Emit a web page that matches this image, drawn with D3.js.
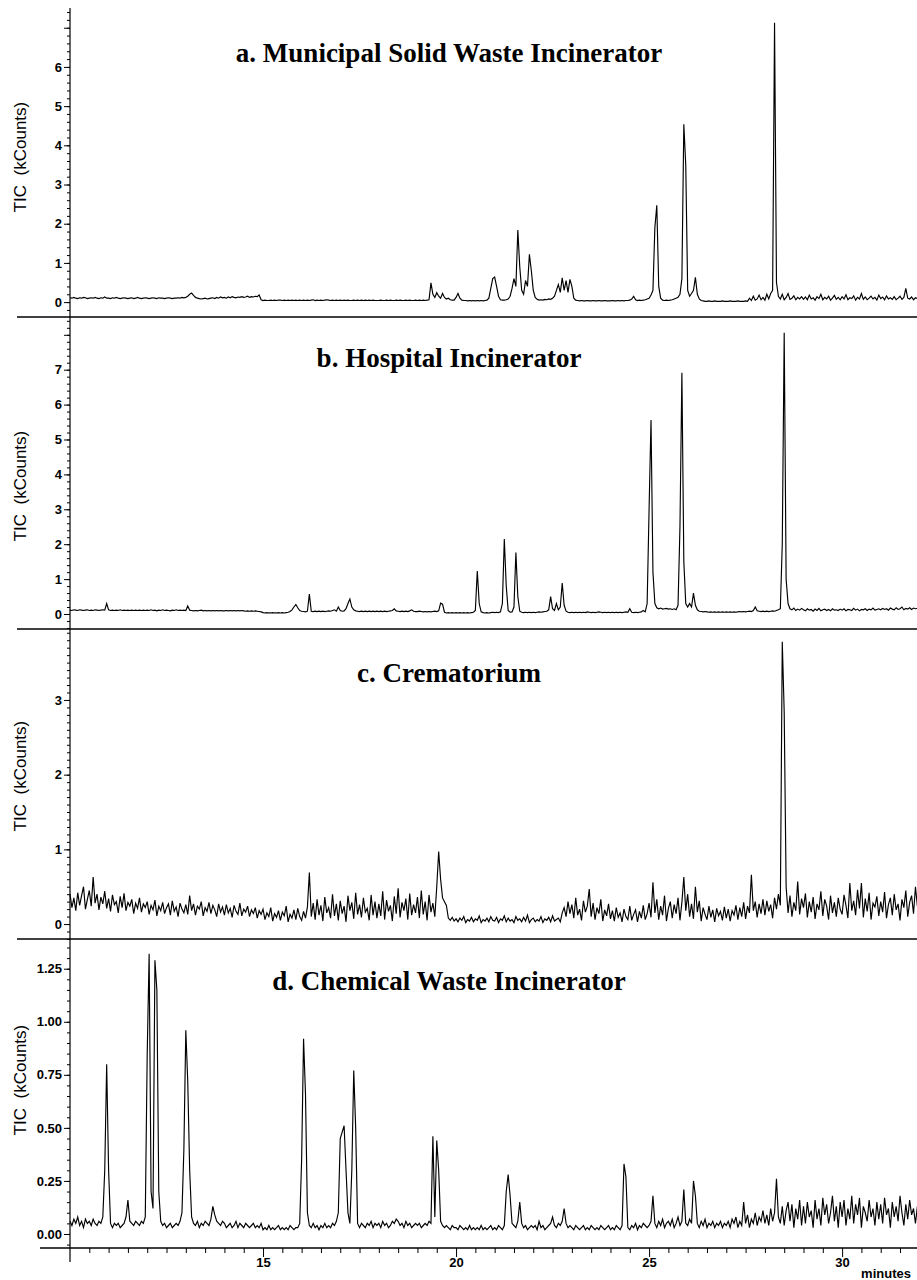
<!DOCTYPE html>
<html>
<head>
<meta charset="utf-8">
<script src="https://cdn.jsdelivr.net/npm/d3@7"></script>
<style>
  body { margin: 0; background: #fff; }
  .title { font-family: 'Liberation Serif', 'Times New Roman', serif; font-weight: bold; font-size: 27px; }
  .axis-label { font-family: 'Liberation Sans', Arial, sans-serif; font-size: 17px; }
  .unit { font-family: 'Liberation Sans', Arial, sans-serif; font-weight: bold; font-size: 13px; }
</style>
</head>
<body>
<svg width="917" height="1280"></svg>
<script>
//scan settings: one value every 0.05 min starting at 10 min (one row = one minute)
const scanStart = 10;
const scanStep = 0.05;

//a. municipal solid waste incinerator (kCounts)
const municipal = [
  0.11,0.10,0.12,0.10,0.09,0.11,0.10,0.12,0.11,0.09,0.10,0.11,0.10,0.12,0.10,0.09,0.11,0.10,0.13,0.10,
  0.10,0.09,0.11,0.10,0.12,0.10,0.09,0.10,0.11,0.10,0.09,0.10,0.11,0.09,0.10,0.12,0.10,0.09,0.10,0.11,
  0.10,0.09,0.10,0.11,0.10,0.09,0.11,0.10,0.10,0.09,0.10,0.11,0.10,0.09,0.10,0.10,0.11,0.10,0.12,0.11,
  0.12,0.15,0.20,0.23,0.17,0.12,0.10,0.09,0.08,0.09,0.10,0.08,0.09,0.10,0.11,0.09,0.12,0.10,0.13,0.11,
  0.12,0.10,0.13,0.11,0.14,0.12,0.11,0.13,0.12,0.14,0.12,0.13,0.15,0.12,0.14,0.13,0.15,0.14,0.18,0.06,
  0.04,0.05,0.04,0.04,0.05,0.04,0.05,0.04,0.05,0.05,0.04,0.05,0.04,0.05,0.04,0.05,0.04,0.05,0.04,0.05,
  0.04,0.05,0.04,0.05,0.04,0.05,0.06,0.04,0.05,0.04,0.05,0.04,0.05,0.06,0.05,0.04,0.05,0.04,0.05,0.04,
  0.05,0.04,0.05,0.04,0.05,0.04,0.04,0.05,0.04,0.05,0.04,0.05,0.04,0.05,0.04,0.05,0.04,0.05,0.04,0.04,
  0.04,0.05,0.04,0.04,0.05,0.04,0.05,0.04,0.04,0.05,0.04,0.05,0.04,0.04,0.05,0.04,0.05,0.04,0.04,0.05,
  0.04,0.05,0.04,0.05,0.04,0.05,0.06,0.49,0.20,0.12,0.24,0.15,0.10,0.22,0.12,0.08,0.10,0.06,0.05,0.05,
  0.12,0.22,0.10,0.05,0.04,0.04,0.03,0.04,0.03,0.04,0.03,0.04,0.03,0.04,0.03,0.04,0.05,0.10,0.35,0.60,
  0.64,0.40,0.15,0.06,0.05,0.05,0.06,0.08,0.15,0.35,0.60,0.40,1.84,0.90,0.30,0.20,0.55,0.40,1.22,0.80,
  0.30,0.12,0.07,0.05,0.06,0.05,0.07,0.06,0.08,0.07,0.10,0.15,0.30,0.45,0.25,0.62,0.30,0.55,0.25,0.58,
  0.40,0.10,0.05,0.04,0.03,0.04,0.03,0.03,0.04,0.03,0.03,0.04,0.03,0.03,0.04,0.03,0.03,0.04,0.03,0.03,
  0.03,0.04,0.03,0.03,0.04,0.03,0.04,0.03,0.04,0.04,0.05,0.08,0.15,0.06,0.04,0.05,0.04,0.05,0.06,0.08,
  0.10,0.18,0.30,1.90,2.47,0.40,0.10,0.05,0.04,0.05,0.04,0.05,0.06,0.08,0.10,0.12,0.20,0.60,4.54,3.50,
  0.30,0.15,0.22,0.30,0.63,0.20,0.08,0.04,0.03,0.02,0.02,0.03,0.02,0.02,0.03,0.02,0.02,0.02,0.03,0.02,
  0.02,0.02,0.03,0.02,0.02,0.02,0.03,0.02,0.02,0.02,0.03,0.02,0.10,0.04,0.15,0.05,0.08,0.18,0.06,0.12,
  0.05,0.20,0.08,0.22,0.30,7.13,0.50,0.15,0.08,0.20,0.06,0.12,0.22,0.07,0.10,0.16,0.06,0.12,0.08,0.14,
  0.07,0.13,0.06,0.18,0.08,0.11,0.05,0.14,0.09,0.20,0.06,0.12,0.08,0.15,0.05,0.10,0.17,0.07,0.12,0.06,
  0.14,0.08,0.19,0.06,0.11,0.09,0.16,0.05,0.12,0.08,0.22,0.07,0.13,0.06,0.10,0.15,0.08,0.12,0.05,0.18,
  0.09,0.13,0.06,0.16,0.08,0.11,0.07,0.14,0.06,0.10,0.15,0.07,0.12,0.35,0.10,0.08,0.13,0.06,0.11,0.09
];

//b. hospital incinerator (kCounts)
const hospital = [
  0.11,0.10,0.12,0.11,0.10,0.12,0.11,0.10,0.11,0.12,0.10,0.11,0.10,0.12,0.11,0.10,0.11,0.12,0.11,0.30,
  0.12,0.10,0.11,0.10,0.11,0.10,0.12,0.10,0.11,0.10,0.11,0.10,0.11,0.10,0.11,0.10,0.11,0.10,0.11,0.10,
  0.11,0.10,0.12,0.10,0.11,0.09,0.11,0.10,0.12,0.10,0.11,0.10,0.09,0.11,0.10,0.12,0.10,0.11,0.10,0.11,
  0.10,0.23,0.11,0.10,0.09,0.10,0.09,0.10,0.11,0.09,0.10,0.09,0.10,0.09,0.10,0.09,0.10,0.09,0.10,0.09,
  0.09,0.10,0.09,0.10,0.09,0.10,0.09,0.10,0.09,0.10,0.09,0.08,0.09,0.08,0.09,0.08,0.09,0.08,0.07,0.06,
  0.04,0.03,0.04,0.03,0.03,0.04,0.03,0.03,0.04,0.03,0.04,0.03,0.04,0.05,0.07,0.12,0.20,0.27,0.18,0.10,
  0.08,0.07,0.06,0.08,0.57,0.08,0.07,0.08,0.07,0.08,0.07,0.08,0.07,0.08,0.09,0.08,0.10,0.12,0.08,0.20,
  0.10,0.08,0.09,0.15,0.30,0.43,0.20,0.12,0.09,0.08,0.07,0.08,0.07,0.08,0.07,0.08,0.07,0.08,0.07,0.08,
  0.07,0.08,0.07,0.08,0.07,0.08,0.09,0.10,0.15,0.09,0.08,0.07,0.08,0.07,0.08,0.07,0.09,0.12,0.08,0.07,
  0.07,0.08,0.07,0.06,0.07,0.06,0.07,0.06,0.07,0.08,0.07,0.09,0.31,0.28,0.05,0.03,0.04,0.03,0.04,0.03,
  0.04,0.03,0.04,0.03,0.04,0.03,0.04,0.03,0.04,0.05,0.10,1.23,0.30,0.06,0.04,0.03,0.04,0.03,0.04,0.05,
  0.04,0.05,0.04,0.06,0.30,2.15,0.80,0.10,0.05,0.06,0.20,1.76,0.50,0.08,0.05,0.04,0.05,0.04,0.05,0.04,
  0.05,0.04,0.05,0.06,0.05,0.06,0.07,0.08,0.12,0.50,0.15,0.10,0.30,0.12,0.20,0.89,0.25,0.08,0.05,0.04,
  0.05,0.04,0.05,0.04,0.05,0.04,0.05,0.04,0.06,0.05,0.04,0.05,0.04,0.05,0.06,0.05,0.04,0.05,0.04,0.05,
  0.04,0.05,0.04,0.05,0.04,0.05,0.04,0.05,0.06,0.05,0.15,0.05,0.04,0.05,0.04,0.05,0.06,0.10,0.06,0.30,
  3.00,5.56,1.20,0.30,0.18,0.15,0.17,0.14,0.15,0.16,0.14,0.15,0.13,0.15,0.12,0.25,2.50,6.91,1.50,0.30,
  0.20,0.30,0.20,0.60,0.25,0.12,0.08,0.07,0.06,0.07,0.06,0.05,0.06,0.05,0.06,0.05,0.06,0.05,0.06,0.05,
  0.06,0.05,0.06,0.05,0.06,0.05,0.06,0.07,0.06,0.07,0.06,0.07,0.08,0.07,0.10,0.20,0.09,0.08,0.07,0.08,
  0.07,0.08,0.07,0.08,0.09,0.08,0.10,0.12,0.15,2.00,8.06,1.00,0.30,0.15,0.12,0.17,0.10,0.14,0.11,0.16,
  0.12,0.09,0.15,0.11,0.13,0.08,0.14,0.10,0.16,0.09,0.12,0.14,0.10,0.13,0.09,0.15,0.11,0.12,0.10,0.14,
  0.11,0.15,0.09,0.13,0.12,0.10,0.16,0.11,0.14,0.09,0.13,0.12,0.15,0.10,0.14,0.12,0.17,0.11,0.13,0.15,
  0.12,0.16,0.13,0.15,0.11,0.17,0.14,0.12,0.18,0.13,0.15,0.20,0.12,0.16,0.14,0.18,0.13,0.17,0.15,0.16
];

//c. crematorium (kCounts)
const crematorium = [
  0.40,0.22,0.35,0.18,0.42,0.25,0.38,0.50,0.20,0.33,0.45,0.24,0.63,0.28,0.40,0.19,0.36,0.27,0.44,0.21,
  0.34,0.17,0.39,0.26,0.30,0.15,0.37,0.22,0.41,0.18,0.29,0.24,0.33,0.14,0.28,0.21,0.35,0.16,0.27,0.22,
  0.30,0.13,0.25,0.19,0.32,0.11,0.24,0.18,0.29,0.14,0.22,0.27,0.12,0.31,0.17,0.23,0.10,0.28,0.20,0.15,
  0.26,0.13,0.38,0.18,0.27,0.12,0.24,0.20,0.30,0.11,0.22,0.17,0.29,0.14,0.25,0.19,0.10,0.27,0.16,0.23,
  0.12,0.26,0.15,0.21,0.09,0.25,0.17,0.13,0.28,0.11,0.20,0.16,0.24,0.10,0.19,0.14,0.22,0.08,0.18,0.13,
  0.20,0.06,0.15,0.10,0.22,0.04,0.14,0.09,0.18,0.05,0.16,0.11,0.24,0.03,0.13,0.08,0.19,0.06,0.21,0.10,
  0.05,0.17,0.08,0.23,0.69,0.10,0.28,0.06,0.33,0.12,0.25,0.04,0.36,0.15,0.22,0.08,0.40,0.11,0.27,0.05,
  0.31,0.14,0.24,0.03,0.38,0.18,0.29,0.07,0.42,0.13,0.26,0.09,0.35,0.16,0.21,0.05,0.39,0.12,0.30,0.08,
  0.27,0.11,0.44,0.06,0.32,0.17,0.25,0.04,0.37,0.14,0.48,0.09,0.29,0.18,0.34,0.06,0.41,0.12,0.26,0.15,
  0.36,0.08,0.45,0.13,0.30,0.05,0.39,0.16,0.28,0.10,0.50,0.97,0.60,0.35,0.30,0.25,0.08,0.05,0.09,0.04,
  0.07,0.03,0.08,0.05,0.10,0.02,0.06,0.04,0.09,0.03,0.07,0.05,0.11,0.02,0.06,0.04,0.08,0.03,0.10,0.05,
  0.04,0.09,0.02,0.07,0.05,0.11,0.03,0.08,0.04,0.06,0.02,0.10,0.05,0.07,0.03,0.09,0.04,0.12,0.02,0.06,
  0.08,0.03,0.06,0.04,0.10,0.02,0.07,0.05,0.09,0.03,0.11,0.04,0.06,0.08,0.03,0.15,0.22,0.10,0.30,0.14,
  0.26,0.08,0.35,0.12,0.20,0.05,0.31,0.16,0.24,0.47,0.10,0.28,0.06,0.22,0.14,0.33,0.04,0.19,0.11,0.27,
  0.07,0.18,0.04,0.22,0.09,0.15,0.03,0.20,0.10,0.06,0.24,0.05,0.13,0.19,0.03,0.17,0.08,0.25,0.06,0.14,
  0.28,0.09,0.56,0.15,0.33,0.06,0.24,0.12,0.38,0.04,0.21,0.30,0.08,0.26,0.14,0.35,0.05,0.29,0.63,0.18,
  0.40,0.10,0.27,0.07,0.50,0.16,0.31,0.04,0.22,0.13,0.06,0.24,0.09,0.19,0.03,0.21,0.11,0.17,0.05,0.23,
  0.08,0.20,0.04,0.18,0.12,0.25,0.06,0.22,0.10,0.29,0.07,0.24,0.15,0.66,0.18,0.30,0.09,0.27,0.14,0.33,
  0.12,0.31,0.17,0.26,0.08,0.35,0.20,0.40,0.25,3.78,2.84,0.50,0.15,0.38,0.10,0.29,0.18,0.57,0.13,0.34,
  0.22,0.41,0.09,0.30,0.16,0.36,0.07,0.27,0.19,0.44,0.11,0.33,0.24,0.06,0.38,0.15,0.29,0.10,0.35,0.20,
  0.13,0.39,0.25,0.08,0.55,0.18,0.31,0.12,0.46,0.21,0.55,0.09,0.34,0.17,0.42,0.06,0.28,0.23,0.37,0.11,
  0.30,0.16,0.43,0.08,0.26,0.35,0.12,0.40,0.19,0.27,0.05,0.33,0.22,0.45,0.10,0.29,0.38,0.14,0.50,0.24
];

//d. chemical waste incinerator (kCounts)
const chemical = [
  0.06,0.04,0.07,0.05,0.08,0.04,0.06,0.03,0.07,0.05,0.06,0.04,0.07,0.05,0.04,0.06,0.05,0.08,0.30,0.80,
  0.30,0.05,0.03,0.05,0.04,0.05,0.03,0.04,0.05,0.08,0.16,0.06,0.05,0.04,0.06,0.05,0.04,0.06,0.05,0.08,
  0.85,1.32,0.20,0.12,1.29,1.15,0.20,0.06,0.04,0.05,0.03,0.04,0.05,0.03,0.04,0.05,0.04,0.06,0.10,0.40,
  0.96,0.72,0.30,0.08,0.05,0.04,0.06,0.03,0.05,0.04,0.06,0.05,0.04,0.07,0.13,0.09,0.06,0.05,0.04,0.06,
  0.05,0.03,0.04,0.05,0.03,0.04,0.06,0.03,0.05,0.04,0.03,0.05,0.04,0.03,0.04,0.05,0.03,0.04,0.03,0.05,
  0.02,0.03,0.02,0.04,0.02,0.03,0.02,0.03,0.04,0.02,0.03,0.02,0.03,0.02,0.04,0.03,0.02,0.03,0.03,0.05,
  0.35,0.92,0.66,0.10,0.04,0.03,0.05,0.03,0.04,0.02,0.04,0.03,0.05,0.03,0.04,0.03,0.05,0.04,0.06,0.10,
  0.45,0.48,0.51,0.30,0.10,0.05,0.30,0.77,0.50,0.05,0.03,0.05,0.04,0.03,0.05,0.04,0.06,0.03,0.05,0.04,
  0.05,0.03,0.06,0.04,0.05,0.03,0.04,0.06,0.05,0.07,0.06,0.04,0.05,0.03,0.06,0.04,0.05,0.03,0.04,0.05,
  0.04,0.05,0.03,0.04,0.05,0.04,0.06,0.05,0.46,0.08,0.44,0.30,0.06,0.04,0.03,0.04,0.03,0.02,0.04,0.03,
  0.03,0.02,0.04,0.03,0.02,0.03,0.02,0.04,0.02,0.03,0.02,0.03,0.02,0.04,0.02,0.03,0.02,0.03,0.04,0.02,
  0.03,0.02,0.04,0.03,0.02,0.04,0.20,0.28,0.18,0.05,0.04,0.03,0.06,0.15,0.05,0.03,0.04,0.02,0.03,0.04,
  0.03,0.04,0.02,0.06,0.03,0.04,0.02,0.03,0.04,0.05,0.08,0.04,0.03,0.05,0.04,0.06,0.12,0.05,0.03,0.04,
  0.03,0.02,0.04,0.03,0.02,0.03,0.04,0.02,0.03,0.02,0.04,0.03,0.02,0.03,0.02,0.04,0.03,0.02,0.03,0.04,
  0.02,0.03,0.02,0.04,0.03,0.02,0.04,0.33,0.27,0.03,0.02,0.04,0.03,0.05,0.02,0.04,0.03,0.05,0.04,0.03,
  0.04,0.06,0.18,0.05,0.03,0.06,0.04,0.07,0.03,0.05,0.06,0.04,0.07,0.03,0.05,0.08,0.04,0.06,0.21,0.05,
  0.04,0.07,0.05,0.25,0.18,0.05,0.03,0.06,0.04,0.07,0.03,0.05,0.04,0.06,0.03,0.05,0.04,0.06,0.03,0.05,
  0.04,0.06,0.03,0.07,0.05,0.08,0.03,0.06,0.04,0.15,0.05,0.09,0.03,0.07,0.05,0.10,0.04,0.08,0.06,0.11,
  0.05,0.09,0.04,0.12,0.06,0.10,0.26,0.08,0.05,0.13,0.04,0.11,0.15,0.06,0.14,0.03,0.12,0.07,0.16,0.04,
  0.13,0.05,0.15,0.08,0.11,0.03,0.16,0.07,0.12,0.04,0.17,0.09,0.14,0.05,0.10,0.18,0.06,0.13,0.03,0.15,
  0.08,0.16,0.04,0.12,0.07,0.18,0.05,0.14,0.09,0.17,0.03,0.13,0.10,0.06,0.16,0.08,0.12,0.04,0.15,0.07,
  0.14,0.05,0.17,0.09,0.12,0.03,0.15,0.08,0.13,0.06,0.18,0.10,0.04,0.14,0.07,0.16,0.09,0.12,0.05,0.13
];

const titles = [
  'a. Municipal Solid Waste Incinerator',
  'b. Hospital Incinerator',
  'c. Crematorium',
  'd. Chemical Waste Incinerator'
];
const series = [municipal, hospital, crematorium, chemical];
const yTickValues = [
  [0, 1, 2, 3, 4, 5, 6, 7],
  [0, 1, 2, 3, 4, 5, 6, 7, 8],
  [0, 1, 2, 3],
  [0, 0.25, 0.5, 0.75, 1, 1.25]
];
const yTickLabelled = [
  [0, 1, 2, 3, 4, 5, 6],
  [0, 1, 2, 3, 4, 5, 6, 7],
  [0, 1, 2, 3],
  [0, 0.25, 0.5, 0.75, 1, 1.25]
];
const yMinorStep = [0.2, 0.2, 0.1, 0.05];
const xTickValues = [15, 20, 25, 30];
const xLabel = 'minutes';
const yAxisLabel = 'TIC\u00a0 (kCounts)';

//declare svg variables
const svg = d3.select('svg');
const width = +svg.attr('width');
const height = +svg.attr('height');

//panel layout
const axisX = 70;
const panelTop = [5, 317, 629, 939];
const panelBottom = [317, 629, 939, 1248];
const yDomains = [[-0.38, 7.58], [-0.43, 8.51], [-0.2, 3.95], [-0.066, 1.39]];
const titleY = [62, 367, 682, 990];
const labelY = [157, 486, 776, 1080];

//tick label styling applied straight onto the axis text
const styleTicks = sel => sel.selectAll('.tick text')
  .attr('font-family', "'Liberation Sans', Arial, sans-serif")
  .attr('font-weight', 'bold')
  .attr('font-size', 13)
  .attr('fill', '#000');

const xScale = d3.scaleLinear()
  .domain([10, 31.94])
  .range([axisX, width]);

const timeOf = i => scanStart + i * scanStep;

series.forEach((values, p) => {
  const yScale = d3.scaleLinear()
    .domain(yDomains[p])
    .range([panelBottom[p], panelTop[p]]);

  const g = svg.append('g');

  //minor y ticks
  const [lo, hi] = yDomains[p];
  const minor = d3.range(Math.ceil(lo / yMinorStep[p]), Math.floor(hi / yMinorStep[p]) + 1)
    .map(k => +(k * yMinorStep[p]).toFixed(3));
  const minorG = g.append('g')
    .attr('transform', `translate(${axisX},0)`)
    .call(d3.axisLeft(yScale).tickValues(minor).tickSize(3).tickFormat(''));
  minorG.select('.domain').remove();

  //labelled y ticks
  const fmt = p === 3 ? d3.format('.2f') : d3.format('d');
  const yAxisG = g.append('g')
    .attr('transform', `translate(${axisX},0)`)
    .call(d3.axisLeft(yScale)
      .tickValues(yTickValues[p])
      .tickSize(6)
      .tickPadding(2)
      .tickFormat(v => yTickLabelled[p].includes(v) ? fmt(v) : ''));
  yAxisG.select('.domain').remove();
  styleTicks(yAxisG);

  //y axis label
  g.append('text')
    .attr('class', 'axis-label')
    .attr('transform', `translate(26, ${labelY[p]}) rotate(-90)`)
    .attr('text-anchor', 'middle')
    .text(yAxisLabel);

  //panel separator
  g.append('line')
    .attr('x1', p === 3 ? 40 : 17)
    .attr('x2', width)
    .attr('y1', panelBottom[p])
    .attr('y2', panelBottom[p])
    .attr('stroke', '#000')
    .attr('stroke-width', 1.3);

  //chromatogram trace
  const line = d3.line()
    .x((d, i) => xScale(timeOf(i)))
    .y(d => yScale(d));

  g.append('path')
    .datum(values)
    .attr('fill', 'none')
    .attr('stroke', '#000')
    .attr('stroke-width', 1.15)
    .attr('d', line);

  //panel title
  g.append('text')
    .attr('class', 'title')
    .attr('x', 449)
    .attr('y', titleY[p])
    .attr('text-anchor', 'middle')
    .text(titles[p]);
});

//shared y axis line
svg.append('line')
  .attr('x1', axisX).attr('x2', axisX)
  .attr('y1', 8).attr('y2', 1262)
  .attr('stroke', '#000')
  .attr('stroke-width', 1.2);

//x axis: minor ticks every half minute
const xMinor = d3.range(21, 64).map(k => k / 2).filter(v => !xTickValues.includes(v));
const xMinorG = svg.append('g')
  .attr('transform', `translate(0, ${panelBottom[3]})`)
  .call(d3.axisBottom(xScale).tickValues(xMinor).tickSize(5).tickFormat(''));
xMinorG.select('.domain').remove();

const xAxisG = svg.append('g')
  .attr('transform', `translate(0, ${panelBottom[3]})`)
  .call(d3.axisBottom(xScale).tickValues(xTickValues).tickSize(9).tickPadding(1).tickFormat(d3.format('d')));
xAxisG.select('.domain').remove();
styleTicks(xAxisG);

svg.append('text')
  .attr('class', 'unit')
  .attr('x', 886)
  .attr('y', 1278)
  .attr('text-anchor', 'middle')
  .text(xLabel);
</script>
</body>
</html>
